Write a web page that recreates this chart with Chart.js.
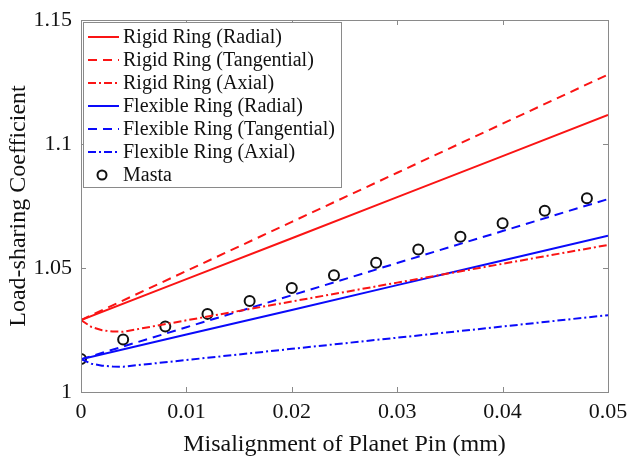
<!DOCTYPE html>
<html>
<head>
<meta charset="utf-8">
<script src="https://cdn.jsdelivr.net/npm/chart.js@4/dist/chart.umd.min.js"></script>
<style>
html,body{margin:0;padding:0;background:#fff;}
canvas{display:block;}
</style>
</head>
<body>
<canvas id="c" width="628" height="463"></canvas>
<script>
// ---- data ----
const xLine = [0, 0.01, 0.02, 0.03, 0.04, 0.05];
const xAxial = [0, 0.001, 0.002, 0.003, 0.004, 0.01, 0.02, 0.03, 0.04, 0.05];
const rigidRadial = [1.029, 1.0455, 1.062, 1.0786, 1.0951, 1.1117];
const rigidTangential = [1.029, 1.0488, 1.0686, 1.0884, 1.1082, 1.128];
const rigidAxial = [1.029, 1.0262, 1.0249, 1.0244, 1.0243, 1.0289, 1.0365, 1.0441, 1.0517, 1.0593];
const flexRadial = [1.0132, 1.0232, 1.0331, 1.0431, 1.053, 1.063];
const flexTangential = [1.0132, 1.0261, 1.039, 1.052, 1.0649, 1.0778];
const flexAxial = [1.0132, 1.0114, 1.0106, 1.0103, 1.0102, 1.0129, 1.0174, 1.0219, 1.0264, 1.031];
const xMasta = [0, 0.004, 0.008, 0.012, 0.016, 0.02, 0.024, 0.028, 0.032, 0.036, 0.04, 0.044, 0.048];
const masta = [1.0133, 1.0212, 1.0264, 1.0315, 1.0367, 1.0419, 1.0471, 1.0521, 1.0575, 1.0626, 1.068, 1.0731, 1.0781];
const xTicks = [0, 0.01, 0.02, 0.03, 0.04, 0.05];
const yTicks = [1, 1.05, 1.1, 1.15];
const legendLabels = ['Rigid Ring (Radial)','Rigid Ring (Tangential)','Rigid Ring (Axial)','Flexible Ring (Radial)','Flexible Ring (Tangential)','Flexible Ring (Axial)','Masta'];

const RED = 'rgb(250,20,20)';
const BLUE = 'rgb(10,10,250)';
const DASH = [9, 6];
const DASHDOT = [8, 3, 2, 3];
const SERIF = '"Liberation Serif", "Times New Roman", serif';

const pts = (xs, ys) => xs.map((x, i) => ({x: x, y: ys[i]}));
const lineDs = (label, xs, ys, color, dash) => ({
  label, data: pts(xs, ys), borderColor: color, backgroundColor: color,
  borderWidth: 2, borderDash: dash, pointRadius: 0, tension: 0, fill: false,
  showLine: true
});

const datasets = [
  lineDs(legendLabels[0], xLine, rigidRadial, RED, []),
  lineDs(legendLabels[1], xLine, rigidTangential, RED, DASH),
  lineDs(legendLabels[2], xAxial, rigidAxial, RED, DASHDOT),
  lineDs(legendLabels[3], xLine, flexRadial, BLUE, []),
  lineDs(legendLabels[4], xLine, flexTangential, BLUE, DASH),
  lineDs(legendLabels[5], xAxial, flexAxial, BLUE, DASHDOT),
  {
    label: legendLabels[6], data: pts(xMasta, masta), showLine: false,
    pointStyle: 'circle', pointRadius: 5, pointBorderWidth: 2,
    borderColor: '#111', backgroundColor: 'rgba(0,0,0,0)',
    pointBorderColor: '#111', pointBackgroundColor: 'rgba(0,0,0,0)'
  }
];

const frame = {
  id: 'frame',
  afterDatasetsDraw(chart) {
    const {ctx, chartArea: a, scales: {x, y}} = chart;
    ctx.save();
    ctx.strokeStyle = '#8a8a8a';
    ctx.lineWidth = 1;
    ctx.strokeRect(a.left + 0.5, a.top + 0.5, a.right - a.left, a.bottom - a.top);
    const L = 5;
    ctx.beginPath();
    xTicks.forEach(v => {
      const px = Math.round(x.getPixelForValue(v)) + 0.5;
      ctx.moveTo(px, a.bottom); ctx.lineTo(px, a.bottom - L);
      ctx.moveTo(px, a.top); ctx.lineTo(px, a.top + L);
    });
    yTicks.forEach(v => {
      const py = Math.round(y.getPixelForValue(v)) + 0.5;
      ctx.moveTo(a.left, py); ctx.lineTo(a.left + L, py);
      ctx.moveTo(a.right, py); ctx.lineTo(a.right - L, py);
    });
    ctx.stroke();

    // legend box
    const lx = a.left + 2, ly = a.top + 2, lw = 258, lh = 165;
    ctx.fillStyle = '#fff';
    ctx.fillRect(lx, ly, lw, lh);
    ctx.strokeStyle = '#8a8a8a';
    ctx.strokeRect(lx + 0.5, ly + 0.5, lw, lh);
    ctx.font = '20px ' + SERIF;
    ctx.textBaseline = 'middle';
    ctx.textAlign = 'left';
    chart.data.datasets.forEach((ds, i) => {
      const cy = ly + 15 + i * 23;
      if (i < 6) {
        ctx.save();
        ctx.strokeStyle = ds.borderColor;
        ctx.lineWidth = 2;
        ctx.setLineDash(ds.borderDash);
        ctx.beginPath();
        ctx.moveTo(lx + 5, cy); ctx.lineTo(lx + 36, cy);
        ctx.stroke();
        ctx.restore();
      } else {
        ctx.save();
        ctx.strokeStyle = '#111';
        ctx.lineWidth = 2;
        ctx.beginPath();
        ctx.arc(lx + 19, cy, 4.5, 0, Math.PI * 2);
        ctx.stroke();
        ctx.restore();
      }
      ctx.fillStyle = '#111';
      ctx.fillText(ds.label, lx + 40, cy + 1);
    });
    ctx.restore();
  }
};

new Chart(document.getElementById('c'), {
  type: 'scatter',
  data: {datasets},
  options: {
    responsive: false,
    animation: false,
    devicePixelRatio: 1,
    layout: {padding: {top: 20, right: 20, left: 0, bottom: 0}},
    plugins: {legend: {display: false}, tooltip: {enabled: false}},
    scales: {
      x: {
        type: 'linear', min: 0, max: 0.05,
        afterBuildTicks: s => { s.ticks = xTicks.map(v => ({value: v})); },
        afterFit: s => { s.height = 71; s.paddingLeft = 0; s.paddingRight = 0; },
        grid: {display: false, drawTicks: false},
        border: {display: false},
        ticks: {
          font: {family: SERIF, size: 22}, color: '#111', padding: 7,
          maxRotation: 0, autoSkip: false,
          callback: v => String(+v.toFixed(2))
        },
        title: {display: true, text: 'Misalignment of Planet Pin (mm)',
          font: {family: SERIF, size: 24}, color: '#111', padding: {top: 0, bottom: 4}}
      },
      y: {
        type: 'linear', min: 1, max: 1.15,
        afterBuildTicks: s => { s.ticks = yTicks.map(v => ({value: v})); },
        afterFit: s => { s.width = 81; s.paddingTop = 0; s.paddingBottom = 0; },
        grid: {display: false, drawTicks: false},
        border: {display: false},
        ticks: {
          font: {family: SERIF, size: 22}, color: '#111', padding: 9,
          autoSkip: false,
          callback: v => String(+v.toFixed(2))
        },
        title: {display: true, text: 'Load-sharing Coefficient',
          font: {family: SERIF, size: 24}, color: '#111', padding: {top: 4, bottom: 0}}
      }
    }
  },
  plugins: [frame]
});
</script>
</body>
</html>
